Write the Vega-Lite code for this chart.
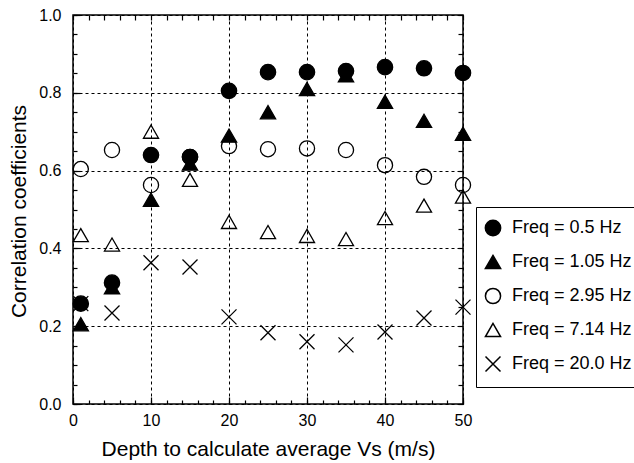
{
  "$schema": "https://vega.github.io/schema/vega-lite/v6.json",
  "width": 390,
  "height": 389,
  "autosize": {"type": "none"},
  "padding": {"left": 73, "top": 15, "right": 171, "bottom": 59},
  "background": "white",
  "config": {
    "view": {"stroke": "black", "strokeWidth": 1.5},
    "font": "Liberation Sans"
  },
  "data": {
    "values": [
      {"depth": 1, "r": 0.258, "freq": "Freq = 20.0 Hz"},
      {"depth": 5, "r": 0.234, "freq": "Freq = 20.0 Hz"},
      {"depth": 10, "r": 0.363, "freq": "Freq = 20.0 Hz"},
      {"depth": 15, "r": 0.352, "freq": "Freq = 20.0 Hz"},
      {"depth": 20, "r": 0.224, "freq": "Freq = 20.0 Hz"},
      {"depth": 25, "r": 0.183, "freq": "Freq = 20.0 Hz"},
      {"depth": 30, "r": 0.16, "freq": "Freq = 20.0 Hz"},
      {"depth": 35, "r": 0.152, "freq": "Freq = 20.0 Hz"},
      {"depth": 40, "r": 0.185, "freq": "Freq = 20.0 Hz"},
      {"depth": 45, "r": 0.221, "freq": "Freq = 20.0 Hz"},
      {"depth": 50, "r": 0.249, "freq": "Freq = 20.0 Hz"},
      {"depth": 1, "r": 0.434, "freq": "Freq = 7.14 Hz"},
      {"depth": 5, "r": 0.41, "freq": "Freq = 7.14 Hz"},
      {"depth": 10, "r": 0.7, "freq": "Freq = 7.14 Hz"},
      {"depth": 15, "r": 0.576, "freq": "Freq = 7.14 Hz"},
      {"depth": 20, "r": 0.468, "freq": "Freq = 7.14 Hz"},
      {"depth": 25, "r": 0.442, "freq": "Freq = 7.14 Hz"},
      {"depth": 30, "r": 0.432, "freq": "Freq = 7.14 Hz"},
      {"depth": 35, "r": 0.424, "freq": "Freq = 7.14 Hz"},
      {"depth": 40, "r": 0.478, "freq": "Freq = 7.14 Hz"},
      {"depth": 45, "r": 0.51, "freq": "Freq = 7.14 Hz"},
      {"depth": 50, "r": 0.533, "freq": "Freq = 7.14 Hz"},
      {"depth": 1, "r": 0.604, "freq": "Freq = 2.95 Hz"},
      {"depth": 5, "r": 0.653, "freq": "Freq = 2.95 Hz"},
      {"depth": 10, "r": 0.563, "freq": "Freq = 2.95 Hz"},
      {"depth": 15, "r": 0.635, "freq": "Freq = 2.95 Hz"},
      {"depth": 20, "r": 0.663, "freq": "Freq = 2.95 Hz"},
      {"depth": 25, "r": 0.655, "freq": "Freq = 2.95 Hz"},
      {"depth": 30, "r": 0.657, "freq": "Freq = 2.95 Hz"},
      {"depth": 35, "r": 0.653, "freq": "Freq = 2.95 Hz"},
      {"depth": 40, "r": 0.614, "freq": "Freq = 2.95 Hz"},
      {"depth": 45, "r": 0.584, "freq": "Freq = 2.95 Hz"},
      {"depth": 50, "r": 0.563, "freq": "Freq = 2.95 Hz"},
      {"depth": 1, "r": 0.205, "freq": "Freq = 1.05 Hz"},
      {"depth": 5, "r": 0.3, "freq": "Freq = 1.05 Hz"},
      {"depth": 10, "r": 0.525, "freq": "Freq = 1.05 Hz"},
      {"depth": 15, "r": 0.618, "freq": "Freq = 1.05 Hz"},
      {"depth": 20, "r": 0.69, "freq": "Freq = 1.05 Hz"},
      {"depth": 25, "r": 0.75, "freq": "Freq = 1.05 Hz"},
      {"depth": 30, "r": 0.81, "freq": "Freq = 1.05 Hz"},
      {"depth": 35, "r": 0.845, "freq": "Freq = 1.05 Hz"},
      {"depth": 40, "r": 0.777, "freq": "Freq = 1.05 Hz"},
      {"depth": 45, "r": 0.728, "freq": "Freq = 1.05 Hz"},
      {"depth": 50, "r": 0.695, "freq": "Freq = 1.05 Hz"},
      {"depth": 1, "r": 0.258, "freq": "Freq = 0.5 Hz"},
      {"depth": 5, "r": 0.312, "freq": "Freq = 0.5 Hz"},
      {"depth": 10, "r": 0.64, "freq": "Freq = 0.5 Hz"},
      {"depth": 15, "r": 0.635, "freq": "Freq = 0.5 Hz"},
      {"depth": 20, "r": 0.805, "freq": "Freq = 0.5 Hz"},
      {"depth": 25, "r": 0.853, "freq": "Freq = 0.5 Hz"},
      {"depth": 30, "r": 0.853, "freq": "Freq = 0.5 Hz"},
      {"depth": 35, "r": 0.856, "freq": "Freq = 0.5 Hz"},
      {"depth": 40, "r": 0.866, "freq": "Freq = 0.5 Hz"},
      {"depth": 45, "r": 0.863, "freq": "Freq = 0.5 Hz"},
      {"depth": 50, "r": 0.851, "freq": "Freq = 0.5 Hz"}
    ]
  },
  "resolve": {
    "scale": {"x": "shared", "y": "shared"},
    "axis": {"x": "independent", "y": "independent"}
  },
  "layer": [
    {
      "mark": {"type": "point", "filled": false, "strokeWidth": 1.3, "opacity": 1},
      "encoding": {
        "x": {
          "field": "depth", "type": "quantitative",
          "scale": {"domain": [0, 50], "nice": false, "zero": false},
          "axis": {
            "orient": "bottom", "values": [0, 10, 20, 30, 40, 50],
            "grid": true, "gridDash": [3, 3], "gridColor": "black", "gridWidth": 1, "gridOpacity": 1,
            "ticks": false, "domain": false,
            "labelFont": "Liberation Sans", "labelFontSize": 16, "labelColor": "black",
            "labelPadding": 8, "labelFlush": false, "labelOverlap": false,
            "title": "Depth to calculate average Vs (m/s)",
            "titleFont": "Liberation Sans", "titleFontSize": 21, "titleFontWeight": "normal",
            "titleColor": "black", "titleBaseline": "alphabetic", "titleY": 51
          }
        },
        "y": {
          "field": "r", "type": "quantitative",
          "scale": {"domain": [0, 1], "nice": false, "zero": false},
          "axis": {
            "orient": "left", "values": [0, 0.2, 0.4, 0.6, 0.8, 1.0], "format": ".1f",
            "grid": true, "gridDash": [3, 3], "gridColor": "black", "gridWidth": 1, "gridOpacity": 1,
            "ticks": false, "domain": false,
            "labelFont": "Liberation Sans", "labelFontSize": 16, "labelColor": "black",
            "labelPadding": 12, "labelFlush": false, "labelOverlap": false,
            "title": "Correlation coefficients",
            "titleFont": "Liberation Sans", "titleFontSize": 21, "titleFontWeight": "normal",
            "titleColor": "black", "titleBaseline": "alphabetic", "titleX": -48, "titleY": 196
          }
        },
        "fill": {
          "field": "freq", "type": "nominal",
          "scale": {
            "domain": ["Freq = 0.5 Hz", "Freq = 1.05 Hz", "Freq = 2.95 Hz", "Freq = 7.14 Hz", "Freq = 20.0 Hz"],
            "range": ["black", "black", "transparent", "transparent", "transparent"]
          },
          "legend": {
            "title": null, "orient": "none", "legendX": 403, "legendY": 192,
            "strokeColor": "black", "padding": 12,
            "labelFont": "Liberation Sans", "labelFontSize": 18, "labelColor": "black",
            "labelOffset": 10, "rowPadding": 13, "symbolOffset": -4,
            "encode": {"symbols": {"update": {"size": {"value": 130}}}}
          }
        },
        "stroke": {
          "field": "freq", "type": "nominal",
          "scale": {
            "domain": ["Freq = 0.5 Hz", "Freq = 1.05 Hz", "Freq = 2.95 Hz", "Freq = 7.14 Hz", "Freq = 20.0 Hz"],
            "range": ["black", "black", "black", "black", "black"]
          },
          "legend": {
            "title": null, "orient": "none", "legendX": 403, "legendY": 192,
            "strokeColor": "black", "padding": 12,
            "labelFont": "Liberation Sans", "labelFontSize": 18, "labelColor": "black",
            "labelOffset": 10, "rowPadding": 13, "symbolOffset": -4,
            "encode": {"symbols": {"update": {"size": {"value": 130}}}}
          }
        },
        "shape": {
          "field": "freq", "type": "nominal",
          "scale": {
            "domain": ["Freq = 0.5 Hz", "Freq = 1.05 Hz", "Freq = 2.95 Hz", "Freq = 7.14 Hz", "Freq = 20.0 Hz"],
            "range": ["circle", "triangle-up", "circle", "triangle-up", "M-1,-1L1,1M-1,1L1,-1"]
          },
          "legend": {
            "title": null, "orient": "none", "legendX": 403, "legendY": 192,
            "strokeColor": "black", "padding": 12,
            "labelFont": "Liberation Sans", "labelFontSize": 18, "labelColor": "black",
            "labelOffset": 10, "rowPadding": 13, "symbolOffset": -4,
            "encode": {"symbols": {"update": {"size": {"value": 130}}}}
          }
        },
        "size": {
          "field": "freq", "type": "nominal",
          "scale": {
            "domain": ["Freq = 0.5 Hz", "Freq = 1.05 Hz", "Freq = 2.95 Hz", "Freq = 7.14 Hz", "Freq = 20.0 Hz"],
            "range": [235, 225, 140, 250, 300]
          },
          "legend": {
            "title": null, "orient": "none", "legendX": 403, "legendY": 192,
            "strokeColor": "black", "padding": 12,
            "labelFont": "Liberation Sans", "labelFontSize": 18, "labelColor": "black",
            "labelOffset": 10, "rowPadding": 13, "symbolOffset": -4,
            "encode": {"symbols": {"update": {"size": {"value": 130}}}}
          }
        }
      }
    },
    {
      "mark": {"type": "point", "opacity": 0},
      "encoding": {
        "x": {
          "field": "depth", "type": "quantitative",
          "axis": {"orient": "bottom", "values": [0, 10, 20, 30, 40, 50], "ticks": true, "tickSize": -7, "tickColor": "black", "tickWidth": 1.2, "labels": false, "grid": false, "domain": false, "title": null}
        },
        "y": {
          "field": "r", "type": "quantitative",
          "axis": {"orient": "left", "values": [0, 0.2, 0.4, 0.6, 0.8, 1.0], "ticks": true, "tickSize": -7, "tickColor": "black", "tickWidth": 1.2, "labels": false, "grid": false, "domain": false, "title": null}
        }
      }
    },
    {
      "mark": {"type": "point", "opacity": 0},
      "encoding": {
        "x": {
          "field": "depth", "type": "quantitative",
          "axis": {"orient": "bottom", "values": [0, 2, 4, 6, 8, 10, 12, 14, 16, 18, 20, 22, 24, 26, 28, 30, 32, 34, 36, 38, 40, 42, 44, 46, 48, 50], "ticks": true, "tickSize": -4, "tickColor": "black", "tickWidth": 1.2, "labels": false, "grid": false, "domain": false, "title": null}
        },
        "y": {
          "field": "r", "type": "quantitative",
          "axis": {"orient": "left", "values": [0, 0.05, 0.1, 0.15, 0.2, 0.25, 0.3, 0.35, 0.4, 0.45, 0.5, 0.55, 0.6, 0.65, 0.7, 0.75, 0.8, 0.85, 0.9, 0.95, 1.0], "ticks": true, "tickSize": -4, "tickColor": "black", "tickWidth": 1.2, "labels": false, "grid": false, "domain": false, "title": null}
        }
      }
    },
    {
      "mark": {"type": "point", "opacity": 0},
      "encoding": {
        "x": {
          "field": "depth", "type": "quantitative",
          "axis": {"orient": "top", "values": [0, 2, 4, 6, 8, 10, 12, 14, 16, 18, 20, 22, 24, 26, 28, 30, 32, 34, 36, 38, 40, 42, 44, 46, 48, 50], "ticks": true, "tickSize": -5, "tickColor": "black", "tickWidth": 1.2, "labels": false, "grid": false, "domain": false, "title": null}
        },
        "y": {
          "field": "r", "type": "quantitative",
          "axis": {"orient": "right", "values": [0, 0.05, 0.1, 0.15, 0.2, 0.25, 0.3, 0.35, 0.4, 0.45, 0.5, 0.55, 0.6, 0.65, 0.7, 0.75, 0.8, 0.85, 0.9, 0.95, 1.0], "ticks": true, "tickSize": -5, "tickColor": "black", "tickWidth": 1.2, "labels": false, "grid": false, "domain": false, "title": null}
        }
      }
    }
  ]
}
